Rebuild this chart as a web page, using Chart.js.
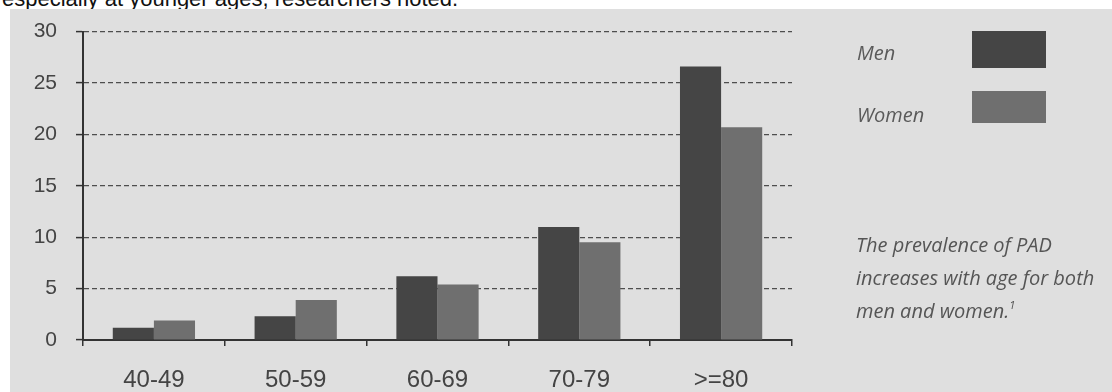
<!DOCTYPE html>
<html>
<head>
<meta charset="utf-8">
<script src="https://cdn.jsdelivr.net/npm/chart.js@4/dist/chart.umd.min.js"></script>
<style>
	html, body { margin: 0; padding: 0; background: #fff; }
	body { width: 1112px; height: 392px; position: relative; overflow: hidden; }
	.texto-topo {
		position: absolute; left: 2px; top: -12px;
		font: 22px/22px "Liberation Sans", Arial, sans-serif; color: #111; white-space: nowrap;
	}
	.painel { position: absolute; left: 10px; top: 9px; right: 0; bottom: 0; background: #dfdfdf; }
	#graficoPrevalenciaPAD { position: absolute; left: 0; top: 0; }
	.nota {
		position: absolute; left: 856px; top: 228px;
		font: italic 20px/33px "Open Sans", sans-serif; color: #555; white-space: nowrap;
	}
	.nota sup { font-size: 11px; vertical-align: 9px; line-height: 0; }
</style>
</head>
<body>
<div class="texto-topo">especially at younger ages, researchers noted.</div>
<div class="painel"></div>
<canvas id="graficoPrevalenciaPAD" width="1112" height="392"></canvas>
<div class="nota">The prevalence of PAD<br>increases with age for both<br>men and women.<sup>1</sup></div>

<script>
var faixasEtarias = ['40-49', '50-59', '60-69', '70-79', '>=80'];
var prevalenciaHomens = [1.2, 2.3, 6.2, 11.0, 26.6];
var prevalenciaMulheres = [1.9, 3.9, 5.4, 9.5, 20.7];
var ticksEixoY = [0, 5, 10, 15, 20, 25, 30];

var PAD = PAD || {};

// legenda desenhada à direita: texto em itálico e a amostra de cor ao lado
PAD.legendaLateral = {
	id: 'legendaLateral',
	afterDraw: function(chart) {
		var ctx = chart.ctx;
		var linhas = [{ texto: 60, caixa: [31, 37] }, { texto: 122, caixa: [91, 32] }];
		ctx.save();
		chart.data.datasets.forEach(function(ds, i) {
			ctx.font = 'italic 20px "Open Sans", sans-serif';
			ctx.fillStyle = '#5a5a5a';
			ctx.textBaseline = 'alphabetic';
			ctx.fillText(ds.label, 857, linhas[i].texto);
			ctx.fillStyle = ds.backgroundColor;
			ctx.fillRect(972, linhas[i].caixa[0], 74, linhas[i].caixa[1]);
		});
		ctx.restore();
	}
};

PAD.GraficoPrevalencia = (function() {

	function GraficoPrevalencia() {
		this.ctx = document.getElementById('graficoPrevalenciaPAD').getContext('2d');
	}

	GraficoPrevalencia.prototype.iniciar = function() {
		new Chart(this.ctx, {
			type: 'bar',
			data: {
				labels: faixasEtarias,
				datasets: [{
					label: 'Men',
					backgroundColor: '#454545',
					data: prevalenciaHomens
				}, {
					label: 'Women',
					backgroundColor: '#6f6f6f',
					data: prevalenciaMulheres
				}]
			},
			options: {
				responsive: false,
				animation: false,
				layout: { padding: { top: 30, right: 320, left: 0, bottom: 0 } },
				datasets: { bar: { categoryPercentage: 0.58, barPercentage: 1 } },
				plugins: { legend: { display: false }, tooltip: { enabled: false } },
				scales: {
					x: {
						offset: true,
						grid: { drawOnChartArea: false, tickLength: 6, color: '#333', lineWidth: 1.5 },
						border: { color: '#333', width: 2 },
						ticks: { color: '#444', padding: 20, font: { family: '"Liberation Sans", Arial, sans-serif', size: 24 } },
						afterFit: function(eixo) { eixo.height = 52; }
					},
					y: {
						min: 0,
						max: 30,
						afterBuildTicks: function(eixo) {
							eixo.ticks = ticksEixoY.map(function(v) { return { value: v }; });
						},
						grid: { color: '#4e4e4e', lineWidth: 1.2, tickLength: 7, tickColor: '#333', tickWidth: 1.5 },
						border: { color: '#333', width: 2, dash: [5, 3] },
						ticks: { color: '#444', padding: 19, font: { family: '"Liberation Sans", Arial, sans-serif', size: 21 } },
						afterFit: function(eixo) { eixo.width = 83; }
					}
				}
			},
			plugins: [PAD.legendaLateral]
		});
	};

	return GraficoPrevalencia;
}());

var graficoPrevalencia = new PAD.GraficoPrevalencia();
graficoPrevalencia.iniciar();
</script>
</body>
</html>
